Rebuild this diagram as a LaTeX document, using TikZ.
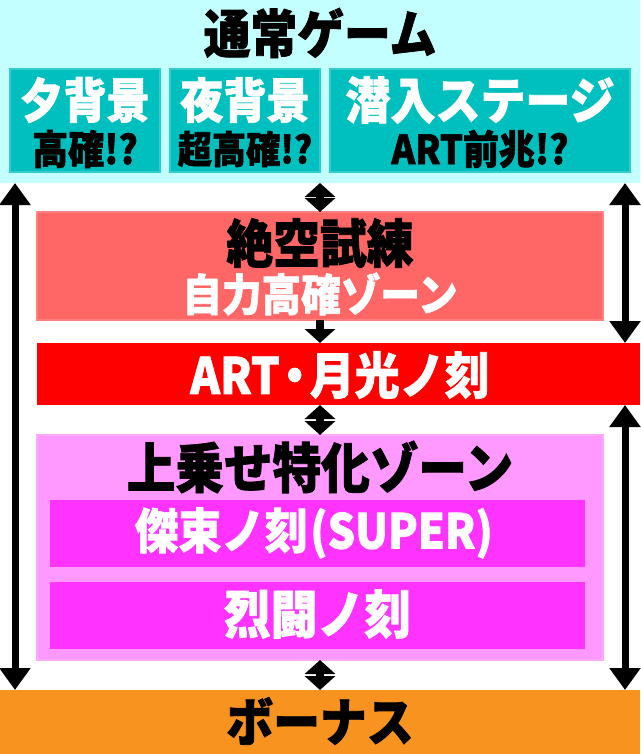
\documentclass[tikz,border=0pt]{standalone}
\usepackage{fontspec}
\setmainfont{Noto Sans CJK JP}[FakeStretch=0.9, BoldFeatures={FakeBold=1.5}]
\usetikzlibrary{arrows.meta}

\definecolor{normalbg}{HTML}{C4FFFF}
\definecolor{stagebg}{HTML}{00BFBF}
\definecolor{stageline}{HTML}{33CCCC}
\definecolor{trialbg}{HTML}{FF6666}
\definecolor{trialline}{HTML}{FF8080}
\definecolor{artbg}{HTML}{FF0000}
\definecolor{zonebg}{HTML}{FF99FF}
\definecolor{zoneline}{HTML}{FFA8FF}
\definecolor{subbg}{HTML}{FF33FF}
\definecolor{bonusbg}{HTML}{F7931E}

\tikzset{
  area/.style={inner sep=0pt, outer sep=0pt},
  txt/.style={inner sep=0pt, font=\fontsize{#1}{#1}\selectfont\bfseries},
  longarr/.style={line width=7pt, {Triangle[width=30pt,length=22pt]}-{Triangle[width=30pt,length=22pt]}},
  shortarr/.style={line width=8pt, {Triangle[width=30pt,length=14pt]}-{Triangle[width=30pt,length=14pt]}},
  downarr/.style={line width=8pt, -{Triangle[width=30pt,length=14pt]}}
}

\begin{document}
\begin{tikzpicture}[x=1pt,y=-1pt]
    \useasboundingbox (0,0) rectangle (640,754);
    % normal game
    \node[area, fill=normalbg, minimum width=640pt, minimum height=183pt] (normal) at (320,91.5) {};
    \node[txt=52] (normaltxt) at (320,33) {通常ゲーム};
    \node[area, fill=stagebg, draw=stageline, line width=1.5pt, minimum width=150pt, minimum height=103pt] (eve) at (85,120.5) {};
    \node[area, fill=stagebg, draw=stageline, line width=1.5pt, minimum width=150pt, minimum height=103pt] (night) at (245,120.5) {};
    \node[area, fill=stagebg, draw=stageline, line width=1.5pt, minimum width=300pt, minimum height=103pt] (stealth) at (480,120.5) {};
    \node[txt=48, white] (evetxt) at (85,100) {夕背景};
    \node[txt=40] (evesub) at (85,149) {高確!?};
    \node[txt=48, white] (nighttxt) at (245,100) {夜背景};
    \node[txt=38] (nightsub) at (245,149) {超高確!?};
    \node[txt=50, white] (stealthtxt) at (480,100) {潜入ステージ};
    \node[txt=40] (stealthsub) at (480,149) {ART前兆!?};
    % trial
    \node[area, fill=trialbg, draw=trialline, line width=1.5pt, minimum width=566pt, minimum height=108pt] (trial) at (320,266) {};
    \node[txt=52] (trialtxt) at (320,243) {絶空試練};
    \node[txt=44, white] (trialsub) at (320,294) {自力高確ゾーン};
    % ART
    \node[area, fill=artbg, minimum width=603pt, minimum height=62pt] (art) at (338.5,374) {};
    \node[txt=50, white] (arttxt) at (340,375) {ART\kern-.15em・\kern-.15em月光ノ刻};
    % stock zone
    \node[area, fill=zonebg, draw=zoneline, line width=1.5pt, minimum width=566pt, minimum height=225pt] (zone) at (320,547.5) {};
    \node[txt=54] (zonetxt) at (320,467) {上乗せ特化ゾーン};
    \node[area, fill=subbg, minimum width=535pt, minimum height=67pt] (super) at (317.5,533.5) {};
    \node[txt=48, white] (supertxt) at (314,533) {傑束ノ刻\kern.05em(SUPER)};
    \node[area, fill=subbg, minimum width=535pt, minimum height=67pt] (fight) at (317.5,615) {};
    \node[txt=52, white] (fighttxt) at (317.5,614) {烈闘ノ刻};
    % bonus
    \node[area, fill=bonusbg, minimum width=640pt, minimum height=64pt] (bonus) at (320,722) {};
    \node[txt=52] (bonustxt) at (320,721) {ボーナス};
    % arrows
    \draw[longarr] ([xshift=15pt]normal.south west) -- ([xshift=15pt]bonus.north west);
    \draw[longarr] ([xshift=-15pt]normal.south east) -- ([xshift=-15pt]art.north east);
    \draw[longarr] ([xshift=-15pt]art.south east) -- ([xshift=-15pt]bonus.north east);
    \draw[shortarr] (normal.south) -- (trial.north);
    \draw[downarr] (trial.south) -- (trial.south |- art.north);
    \draw[shortarr] (zone.north |- art.south) -- (zone.north);
    \draw[shortarr] (zone.south) -- (bonus.north);
\end{tikzpicture}
\end{document}
